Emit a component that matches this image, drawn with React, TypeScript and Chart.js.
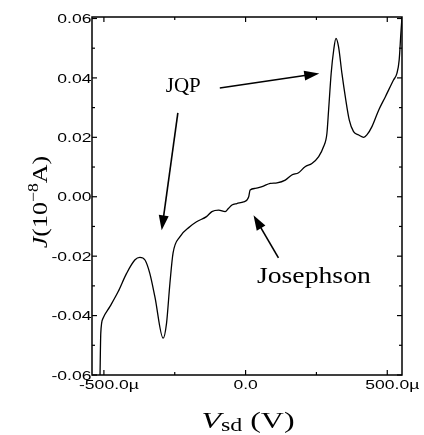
import React, { useEffect, useRef } from 'react';
import { Chart, registerables } from 'chart.js';

Chart.register(...registerables);

// Source-drain voltage (µV) and current J (10^-8 A)
const vsd = [-514, -511, -503, -479, -450, -420, -391, -373, -355, -338, -320, -291, -279, -267, -256, -232, -197, -173, -138, -119, -95, -72, -60, -48, -31, -7, 5, 11, 16, 34, 58, 87, 111, 140, 163, 187, 210, 234, 258, 275, 287, 293, 302, 311, 319, 328, 340, 352, 366, 381, 399, 417, 428, 446, 470, 493, 522, 534, 542, 548, 552];
const current = [-0.062, -0.0459, -0.0409, -0.037, -0.032, -0.0258, -0.0213, -0.0204, -0.0213, -0.0258, -0.0337, -0.0476, -0.0426, -0.0291, -0.019, -0.0135, -0.0101, -0.0084, -0.0067, -0.005, -0.0045, -0.005, -0.0039, -0.0028, -0.0023, -0.0017, -0.0011, 0.0, 0.0023, 0.0028, 0.0034, 0.0045, 0.0047, 0.0056, 0.0073, 0.0081, 0.0101, 0.0112, 0.0135, 0.0168, 0.0213, 0.0292, 0.0415, 0.0494, 0.0533, 0.0505, 0.0415, 0.0336, 0.0258, 0.0219, 0.0208, 0.02, 0.0208, 0.0236, 0.0292, 0.0336, 0.0393, 0.0415, 0.046, 0.055, 0.0606];

const xRange = [-542, 552];
const yRange = [-0.06, 0.0605];

const xMajorTicks = [-500, 0, 500];
const xTickLabels = ['-500.0µ', '0.0', '500.0µ'];
const xMinorTicks = [-250, 250];
const yMajorTicks = [-0.06, -0.04, -0.02, 0, 0.02, 0.04, 0.06];
const yTickLabels = ['-0.06', '-0.04', '-0.02', '0.00', '0.02', '0.04', '0.06'];
const yMinorTicks = [-0.05, -0.03, -0.01, 0.01, 0.03, 0.05];

// Annotations (data coordinates)
const labelTexts = ['JQP', 'Josephson'];
const labelX = [-220, 241];
const labelY = [0.0352, -0.0291];
const arrowFromX = [-239, -91, 116];
const arrowFromY = [0.0282, 0.0366, -0.0206];
const arrowToX = [-296, 260, 28];
const arrowToY = [-0.0113, 0.0415, -0.0062];

type Part = { text: string; font: string; dy?: number };

function drawParts(
  ctx: CanvasRenderingContext2D,
  parts: Part[],
  x: number,
  y: number,
  align: 'left' | 'center' | 'right',
  sx: number,
  rot = 0
) {
  ctx.save();
  ctx.translate(x, y);
  if (rot) ctx.rotate(rot);
  ctx.scale(sx, 1);
  ctx.textBaseline = 'alphabetic';
  ctx.textAlign = 'left';
  let w = 0;
  parts.forEach((p) => {
    ctx.font = p.font;
    w += ctx.measureText(p.text).width;
  });
  let cx = align === 'center' ? -w / 2 : align === 'right' ? -w : 0;
  parts.forEach((p) => {
    ctx.font = p.font;
    ctx.fillText(p.text, cx, p.dy || 0);
    cx += ctx.measureText(p.text).width;
  });
  ctx.restore();
}

const SANS = '"Liberation Sans", Arial, sans-serif';
const SERIF = '"Liberation Serif", "Times New Roman", serif';

const overlay = {
  id: 'overlay',
  afterDraw(chart: any) {
    const { ctx, chartArea: a, scales } = chart;
    const xs = scales.x;
    const ys = scales.y;
    ctx.save();
    ctx.strokeStyle = '#000';
    ctx.fillStyle = '#000';
    ctx.lineWidth = 1.5;
    ctx.strokeRect(a.left, a.top, a.right - a.left, a.bottom - a.top);

    ctx.lineWidth = 1.2;
    const seg = (x1: number, y1: number, x2: number, y2: number) => {
      ctx.beginPath();
      ctx.moveTo(x1, y1);
      ctx.lineTo(x2, y2);
      ctx.stroke();
    };
    const xt = (v: number, len: number) => {
      const px = xs.getPixelForValue(v);
      seg(px, a.bottom, px, a.bottom - len);
      seg(px, a.top, px, a.top + len);
    };
    const yt = (v: number, len: number) => {
      const py = ys.getPixelForValue(v);
      seg(a.left, py, a.left + len, py);
      seg(a.right, py, a.right - len, py);
    };
    xMajorTicks.forEach((v) => xt(v, 5));
    xMinorTicks.forEach((v) => xt(v, 3));
    yMajorTicks.forEach((v) => yt(v, 5));
    yMinorTicks.forEach((v) => yt(v, 3));

    // tick labels
    const tickFont = `13px ${SANS}`;
    const sxTick = 1.35;
    yMajorTicks.forEach((v, i) => {
      const py = ys.getPixelForValue(v);
      drawParts(ctx, [{ text: yTickLabels[i], font: tickFont }], a.left - 0.5, py + 4.7, 'right', sxTick);
    });
    xMajorTicks.forEach((v, i) => {
      const px = xs.getPixelForValue(v);
      const lab = xTickLabels[i];
      const main = lab.replace('µ', '');
      ctx.font = tickFont;
      const wMain = ctx.measureText(main).width * sxTick;
      drawParts(ctx, [{ text: lab, font: tickFont }], px - wMain / 2, a.bottom + 14, 'left', sxTick);
    });

    // axis titles
    drawParts(
      ctx,
      [
        { text: 'J', font: `italic 22px ${SERIF}` },
        { text: '(10', font: `22px ${SERIF}` },
        { text: '−8', font: `15px ${SERIF}`, dy: -9 },
        { text: 'A)', font: `22px ${SERIF}` },
      ],
      47,
      (a.top + a.bottom) / 2 + 6,
      'center',
      1.18,
      -Math.PI / 2
    );
    drawParts(
      ctx,
      [
        { text: 'V', font: `italic 24px ${SERIF}` },
        { text: 'sd', font: `18px ${SERIF}`, dy: 3 },
        { text: ' (V)', font: `24px ${SERIF}` },
      ],
      248,
      428,
      'center',
      1.33
    );

    // annotation labels
    drawParts(ctx, [{ text: labelTexts[0], font: `21px ${SERIF}` }], xs.getPixelForValue(labelX[0]), ys.getPixelForValue(labelY[0]), 'center', 1.0);
    drawParts(ctx, [{ text: labelTexts[1], font: `24px ${SERIF}` }], xs.getPixelForValue(labelX[1]), ys.getPixelForValue(labelY[1]), 'center', 1.155);

    // arrows
    ctx.lineWidth = 1.6;
    arrowFromX.forEach((_, i) => {
      const x1 = xs.getPixelForValue(arrowFromX[i]);
      const y1 = ys.getPixelForValue(arrowFromY[i]);
      const x2 = xs.getPixelForValue(arrowToX[i]);
      const y2 = ys.getPixelForValue(arrowToY[i]);
      const ang = Math.atan2(y2 - y1, x2 - x1);
      const L = 15;
      const H = 5;
      const bx = x2 - L * Math.cos(ang);
      const by = y2 - L * Math.sin(ang);
      seg(x1, y1, bx + 2 * Math.cos(ang), by + 2 * Math.sin(ang));
      ctx.beginPath();
      ctx.moveTo(x2, y2);
      ctx.lineTo(bx + H * Math.sin(ang), by - H * Math.cos(ang));
      ctx.lineTo(bx - H * Math.sin(ang), by + H * Math.cos(ang));
      ctx.closePath();
      ctx.fill();
    });
    ctx.restore();
  },
};

export default function App() {
  const ref = useRef<HTMLCanvasElement | null>(null);
  useEffect(() => {
    document.body.style.margin = '0';
    const canvas = ref.current;
    if (!canvas) return;
    const chart = new Chart(canvas, {
      type: 'line',
      data: {
        datasets: [
          {
            data: vsd.map((x, i) => ({ x, y: current[i] })),
            borderColor: '#000',
            borderWidth: 1.3,
            pointRadius: 0,
            fill: false,
            cubicInterpolationMode: 'monotone',
          },
        ],
      },
      options: {
        responsive: false,
        animation: false,
        layout: { padding: { left: 92, top: 17, right: 22, bottom: 60 } },
        plugins: { legend: { display: false }, tooltip: { enabled: false } },
        scales: {
          x: { type: 'linear', display: false, min: xRange[0], max: xRange[1] },
          y: { type: 'linear', display: false, min: yRange[0], max: yRange[1] },
        },
      },
      plugins: [overlay],
    } as any);
    return () => chart.destroy();
  }, []);
  return (
    <div style={{ width: 424, height: 435, background: '#fff' }}>
      <canvas ref={ref} width={424} height={435} style={{ display: 'block' }} />
    </div>
  );
}
